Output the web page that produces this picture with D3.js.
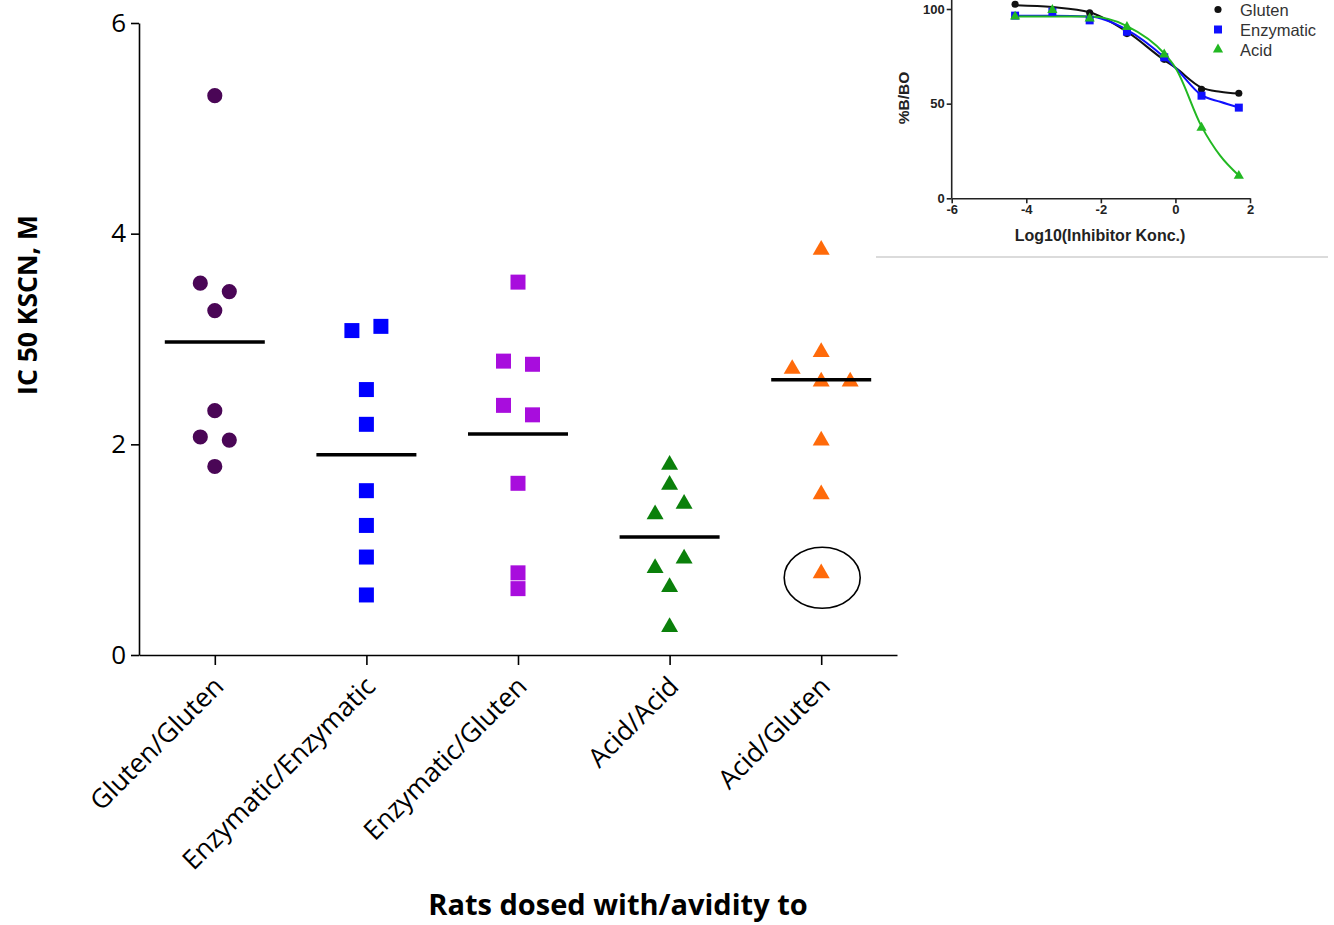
<!DOCTYPE html>
<html>
<head>
<meta charset="utf-8">
<script src="https://cdn.jsdelivr.net/npm/d3@7"></script>
<style>
  body { margin: 0; background: #fff; }
  svg { display: block; }
</style>
</head>
<body>
<svg id="grafico" width="1334" height="925"></svg>
<script>
// datos del grafico principal (IC50 por grupo)
var grupos = ["Gluten/Gluten", "Enzymatic/Enzymatic", "Enzymatic/Gluten", "Acid/Acid", "Acid/Gluten"];
var glutenGluten = [5.31, 3.53, 3.45, 3.27, 2.32, 2.07, 2.04, 1.79];
var enzymaticEnzymatic = [3.08, 3.12, 2.52, 2.19, 1.56, 1.23, 0.93, 0.57];
var enzymaticGluten = [3.54, 2.79, 2.76, 2.37, 2.28, 1.63, 0.78, 0.63];
var acidAcid = [1.82, 1.63, 1.35, 1.45, 0.84, 0.93, 0.66, 0.28];
var acidGluten = [3.86, 2.89, 2.73, 2.61, 2.61, 2.05, 1.54, 0.79];
var outlierGrupo = "Acid/Gluten", outlierIndice = 7; // punto marcado con el circulo
var ticksY = [0, 2, 4, 6];

// datos del grafico pequeño (curvas de inhibicion)
var logKonc = [-4.3, -3.3, -2.3, -1.3, -0.3, 0.7, 1.7];
var glutenBB0 = [102.5, null, 98, 87, 73.4, 57.6, 55.5];
var enzymaticBB0 = [96.5, 98.6, 94, 88, 74.5, 54.2, 47.9];
var acidBB0 = [96, 99.5, 95, 90.5, 76, 37.3, 11.9];
// curvas ajustadas
var fitX = [-4.3, -3.3, -2.3, -1.3, -0.3, 0, 0.7, 1.2, 1.7];
var glutenFit = [102, 101, 98.3, 88, 73, 69, 58.5, 56.3, 55.3];
var enzymaticFit = [96.5, 96.5, 96, 89, 74.5, 69, 54.5, 51, 48];
var acidFit = [96, 96, 96, 91, 76.5, 69, 38, 22.5, 12];
var ticksInsetX = [-6, -4, -2, 0, 2];
var ticksInsetY = [0, 50, 100];

var series = [
    { nombre: "Gluten/Gluten", valores: glutenGluten, color: "#4a0656", forma: "circulo" },
    { nombre: "Enzymatic/Enzymatic", valores: enzymaticEnzymatic, color: "#0000ff", forma: "cuadrado" },
    { nombre: "Enzymatic/Gluten", valores: enzymaticGluten, color: "#a80ddd", forma: "cuadrado" },
    { nombre: "Acid/Acid", valores: acidAcid, color: "#0b800b", forma: "triangulo" },
    { nombre: "Acid/Gluten", valores: acidGluten, color: "#ff6a0a", forma: "triangulo" }
];

var svg = d3.select("#grafico");
svg.append("rect").attr("width", 1334).attr("height", 925).attr("fill", "#fff");

var fuente = "'Open Sans', 'Liberation Sans', sans-serif";

var escalaX = d3.scalePoint().domain(grupos).range([139, 897]).padding(0.5);
var escalaY = d3.scaleLinear().domain([0, 6]).range([655, 23]);

// eje Y
var ejeY = svg.append("g")
    .attr("transform", "translate(139,0)")
    .call(d3.axisLeft(escalaY).tickValues(ticksY).tickFormat(d3.format("d"))
        .tickSize(8).tickSizeOuter(0).tickPadding(5));
ejeY.select(".domain").attr("stroke", "#000").attr("stroke-width", 1.6);
ejeY.selectAll(".tick line").attr("stroke", "#000").attr("stroke-width", 1.6);
ejeY.selectAll(".tick text").attr("font-family", fuente).attr("font-size", 26).attr("fill", "#000");

// eje X
var ejeX = svg.append("g")
    .attr("transform", "translate(0,655)")
    .call(d3.axisBottom(escalaX).tickSize(10).tickSizeOuter(0));
ejeX.select(".domain").attr("stroke", "#000").attr("stroke-width", 1.6);
ejeX.selectAll(".tick line").attr("stroke", "#000").attr("stroke-width", 1.6);
ejeX.selectAll(".tick text")
    .attr("font-family", fuente).attr("font-size", 26.5).attr("fill", "#000")
    .attr("text-anchor", "end")
    .attr("dy", null).attr("y", null)
    .attr("transform", "translate(10,33) rotate(-45)");

// titulos de los ejes
svg.append("text")
    .attr("transform", "translate(37,305) rotate(-90)")
    .attr("text-anchor", "middle")
    .attr("font-family", fuente).attr("font-weight", "bold").attr("font-size", 26.5)
    .text("IC 50 KSCN, M");

svg.append("text")
    .attr("x", 618).attr("y", 915)
    .attr("text-anchor", "middle")
    .attr("font-family", fuente).attr("font-weight", "bold").attr("font-size", 29)
    .text("Rats dosed with/avidity to");

// separacion horizontal de puntos cercanos (filas como en GraphPad)
var separacion = 29, umbral = 14;
function posiciones(valores) {
    var orden = valores.map(function (v, i) { return { v: v, i: i }; })
        .sort(function (a, b) { return b.v - a.v || a.i - b.i; });
    var filas = [];
    orden.forEach(function (p) {
        var ultima = filas[filas.length - 1];
        if (ultima && (escalaY(p.v) - escalaY(ultima[0].v)) < umbral) ultima.push(p);
        else filas.push([p]);
    });
    var res = [];
    filas.forEach(function (fila) {
        fila.sort(function (a, b) { return a.i - b.i; });
        fila.forEach(function (p, k) {
            res.push({ v: p.v, i: p.i, dx: (k - (fila.length - 1) / 2) * separacion });
        });
    });
    return res;
}

var simbolos = {
    circulo: d3.symbol().type(d3.symbolCircle).size(180),
    cuadrado: d3.symbol().type(d3.symbolSquare).size(225),
    triangulo: d3.symbol().type(d3.symbolTriangle).size(125)
};

series.forEach(function (s) {
    var cx = escalaX(s.nombre);
    var pts = posiciones(s.valores);
    svg.append("g").selectAll("path")
        .data(pts)
        .enter()
        .append("path")
        .attr("d", simbolos[s.forma]())
        .attr("fill", s.color)
        .attr("transform", function (d) {
            var dy = s.forma == "triangulo" ? 1.5 : 0;
            return "translate(" + (cx + d.dx) + "," + (escalaY(d.v) + dy) + ")";
        });

    // media (sin el valor atipico)
    var validos = s.valores.filter(function (v, i) {
        return !(s.nombre == outlierGrupo && i == outlierIndice);
    });
    var media = d3.mean(validos);
    svg.append("line")
        .attr("x1", cx - 50).attr("x2", cx + 50)
        .attr("y1", escalaY(media)).attr("y2", escalaY(media))
        .attr("stroke", "#000").attr("stroke-width", 3.5);

    if (s.nombre == outlierGrupo) {
        svg.append("ellipse")
            .attr("cx", cx + 1).attr("cy", escalaY(s.valores[outlierIndice]) + 6)
            .attr("rx", 38).attr("ry", 30.5)
            .attr("fill", "none").attr("stroke", "#000").attr("stroke-width", 1.6);
    }
});

// ---------- grafico pequeño ----------
var inset = svg.append("g");
var fuenteInset = "'Liberation Sans', Arial, sans-serif";
var ix = d3.scaleLinear().domain([-6, 2]).range([951.7, 1250]);
var iy = d3.scaleLinear().domain([0, 100]).range([198.3, 9]);
var formatoGuion = function (d) { return String(d); }; // guion normal, no el signo menos unicode

var ejeIY = inset.append("g")
    .attr("transform", "translate(951.7,0)")
    .call(d3.axisLeft(iy).tickValues(ticksInsetY).tickFormat(formatoGuion)
        .tickSize(5).tickSizeOuter(0).tickPadding(2));
ejeIY.select(".domain").attr("d", "M0," + iy(0) + "V0");
ejeIY.selectAll("path, line").attr("stroke", "#222").attr("stroke-width", 1.6);
ejeIY.selectAll(".tick text").attr("font-family", fuenteInset).attr("font-weight", "bold")
    .attr("font-size", 13).attr("fill", "#222");

var ejeIX = inset.append("g")
    .attr("transform", "translate(0," + iy(0) + ")")
    .call(d3.axisBottom(ix).tickValues(ticksInsetX).tickFormat(formatoGuion)
        .tickSize(5).tickSizeOuter(0).tickPadding(1));
ejeIX.selectAll("path, line").attr("stroke", "#222").attr("stroke-width", 1.6);
ejeIX.selectAll(".tick text").attr("font-family", fuenteInset).attr("font-weight", "bold")
    .attr("font-size", 13).attr("fill", "#222");

inset.append("text")
    .attr("transform", "translate(909,98) rotate(-90)")
    .attr("text-anchor", "middle")
    .attr("font-family", fuenteInset).attr("font-weight", "bold").attr("font-size", 15.5)
    .attr("fill", "#222")
    .text("%B/BO");

inset.append("text")
    .attr("x", 1100).attr("y", 241)
    .attr("text-anchor", "middle")
    .attr("font-family", fuenteInset).attr("font-weight", "bold").attr("font-size", 16)
    .attr("fill", "#222")
    .text("Log10(Inhibitor Konc.)");

var curvas = [
    { nombre: "Gluten", fit: glutenFit, pts: glutenBB0, color: "#111", forma: d3.symbolCircle, tam: 40 },
    { nombre: "Enzymatic", fit: enzymaticFit, pts: enzymaticBB0, color: "#1010ff", forma: d3.symbolSquare, tam: 64 },
    { nombre: "Acid", fit: acidFit, pts: acidBB0, color: "#22b822", forma: d3.symbolTriangle, tam: 45 }
];

var linea = d3.line()
    .x(function (d) { return ix(d[0]); })
    .y(function (d) { return iy(d[1]); })
    .curve(d3.curveMonotoneX);

curvas.forEach(function (c) {
    inset.append("path")
        .attr("d", linea(fitX.map(function (x, i) { return [x, c.fit[i]]; })))
        .attr("fill", "none").attr("stroke", c.color).attr("stroke-width", 2);
});

curvas.forEach(function (c) {
    var datos = logKonc.map(function (x, i) { return [x, c.pts[i]]; })
        .filter(function (d) { return d[1] != null; });
    inset.append("g").selectAll("path")
        .data(datos)
        .enter()
        .append("path")
        .attr("d", d3.symbol().type(c.forma).size(c.tam)())
        .attr("fill", c.color)
        .attr("transform", function (d) { return "translate(" + ix(d[0]) + "," + iy(d[1]) + ")"; });
});

// leyenda
var leyenda = inset.append("g");
curvas.forEach(function (c, i) {
    var y = 9.5 + i * 20;
    leyenda.append("path")
        .attr("d", d3.symbol().type(c.forma).size(c.tam)())
        .attr("fill", c.color)
        .attr("transform", "translate(1218," + y + ")");
    leyenda.append("text")
        .attr("x", 1240).attr("y", y + 6)
        .attr("font-family", fuenteInset).attr("font-size", 16.5).attr("fill", "#333")
        .text(c.nombre);
});

// linea gris inferior del recuadro
inset.append("line")
    .attr("x1", 876).attr("x2", 1328).attr("y1", 257).attr("y2", 257)
    .attr("stroke", "#cfcfcf").attr("stroke-width", 1.5);
</script>
</body>
</html>
